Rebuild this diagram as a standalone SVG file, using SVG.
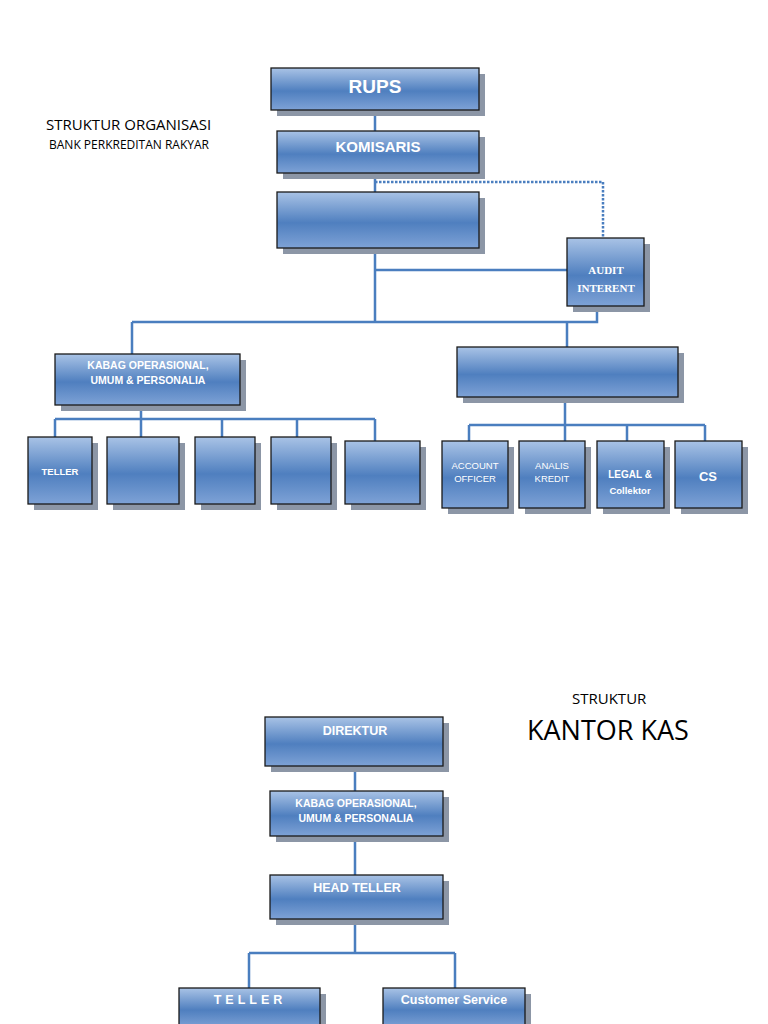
<svg xmlns="http://www.w3.org/2000/svg" width="768" height="1024" viewBox="0 0 768 1024">
<defs>
<linearGradient id="g" x1="0" y1="0" x2="0" y2="1">
<stop offset="0" stop-color="#a9c3e6"/><stop offset="0.55" stop-color="#4f7fbf"/><stop offset="1" stop-color="#7ea2d6"/>
</linearGradient>
<style>
.b{fill:url(#g);stroke:#1a1a1a;stroke-width:1.3}
.s{fill:#8c96a6}
.t{font-family:"Liberation Sans",Arial,sans-serif;font-weight:bold;fill:#fff;text-anchor:middle}
.c{stroke:#4a7ebf;stroke-width:2.5;fill:none}
.d{stroke:#4a7ebf;stroke-width:2.5;fill:none;stroke-dasharray:2.5 1.5}
.l{font-family:"Open Sans","Liberation Sans",sans-serif;fill:#000}
</style>
</defs>
<rect width="768" height="1024" fill="#fff"/>
<g id="labels">
<text class="l" x="46" y="130" font-size="15">STRUKTUR ORGANISASI</text>
<text class="l" x="49" y="149" font-size="12">BANK PERKREDITAN RAKYAR</text>
<text class="l" x="572" y="704" font-size="15">STRUKTUR</text>
<text class="l" x="527" y="740" font-size="27">KANTOR KAS</text>
</g>
<g id="connectors">
<path class="c" d="M375 110V131M375 173V322M375 270H567M132 322H597V306M132 322V354M567 322V347"/>
<path class="d" d="M375 182H603V238"/>
<path class="c" d="M141 405V419M55 419H375M55 419V437M141 419V437M222 419V437M297 419V437M375 419V463"/>
<path class="c" d="M565 397V441M469 425H705M469 425V441M627 425V441M705 425V441"/>
<path class="c" d="M355 766V791M355 836V875M355 919V953M249 953H455M249 953V988M455 953V988"/>
</g>
<g id="rups"><rect class="s" x="277" y="74" width="208" height="42"/><rect class="b" x="271" y="68" width="208" height="42"/><text class="t" x="375" y="93" font-size="19">RUPS</text></g>
<g id="komisaris"><rect class="s" x="283" y="137" width="202" height="42"/><rect class="b" x="277" y="131" width="202" height="42"/><text class="t" x="378" y="152" font-size="15">KOMISARIS</text></g>
<g id="direksi"><rect class="s" x="283" y="198" width="202" height="56"/><rect class="b" x="277" y="192" width="202" height="56"/></g>
<g id="audit"><rect class="s" x="573" y="244" width="77" height="68"/><rect class="b" x="567" y="238" width="77" height="68"/><text class="t" x="606" y="274" font-size="11" font-family="Liberation Serif,serif" style="font-family:'Liberation Serif',serif">AUDIT</text><text class="t" x="606" y="292" font-size="11" style="font-family:'Liberation Serif',serif">INTERENT</text></g>
<g id="kabag"><rect class="s" x="61" y="360" width="185" height="51"/><rect class="b" x="55" y="354" width="185" height="51"/><text class="t" x="148" y="369" font-size="10.5">KABAG OPERASIONAL,</text><text class="t" x="148" y="384" font-size="10.5">UMUM &amp; PERSONALIA</text></g>
<g id="kabag2"><rect class="s" x="463" y="353" width="221" height="50"/><rect class="b" x="457" y="347" width="221" height="50"/></g>
<g id="teller"><rect class="s" x="34" y="443" width="64" height="67"/><rect class="b" x="28" y="437" width="64" height="67"/><text class="t" x="60" y="475" font-size="9.5">TELLER</text></g>
<g id="b2"><rect class="s" x="113" y="443" width="72" height="67"/><rect class="b" x="107" y="437" width="72" height="67"/></g>
<g id="b3"><rect class="s" x="201" y="443" width="60" height="67"/><rect class="b" x="195" y="437" width="60" height="67"/></g>
<g id="b4"><rect class="s" x="277" y="443" width="60" height="67"/><rect class="b" x="271" y="437" width="60" height="67"/></g>
<g id="b5"><rect class="s" x="351" y="447" width="75" height="63"/><rect class="b" x="345" y="441" width="75" height="63"/></g>
<g id="ao"><rect class="s" x="448" y="447" width="66" height="67"/><rect class="b" x="442" y="441" width="66" height="67"/><text class="t" x="475" y="469" font-size="9.5" font-weight="normal" style="font-weight:normal">ACCOUNT</text><text class="t" x="475" y="482" font-size="9.5" style="font-weight:normal">OFFICER</text></g>
<g id="ak"><rect class="s" x="525" y="447" width="66" height="67"/><rect class="b" x="519" y="441" width="66" height="67"/><text class="t" x="552" y="469" font-size="9.5" style="font-weight:normal">ANALIS</text><text class="t" x="552" y="482" font-size="9.5" style="font-weight:normal">KREDIT</text></g>
<g id="legal"><rect class="s" x="603" y="447" width="67" height="67"/><rect class="b" x="597" y="441" width="67" height="67"/><text class="t" x="630" y="478" font-size="10">LEGAL &amp;</text><text class="t" x="630" y="494" font-size="9.5">Collektor</text></g>
<g id="cs"><rect class="s" x="681" y="447" width="67" height="67"/><rect class="b" x="675" y="441" width="67" height="67"/><text class="t" x="708" y="481" font-size="13">CS</text></g>
<g id="direktur"><rect class="s" x="271" y="723" width="178" height="49"/><rect class="b" x="265" y="717" width="178" height="49"/><text class="t" x="355" y="735" font-size="12.5">DIREKTUR</text></g>
<g id="kabag3"><rect class="s" x="276" y="797" width="173" height="45"/><rect class="b" x="270" y="791" width="173" height="45"/><text class="t" x="356" y="807" font-size="10.5">KABAG OPERASIONAL,</text><text class="t" x="356" y="822" font-size="10.5">UMUM &amp; PERSONALIA</text></g>
<g id="headteller"><rect class="s" x="276" y="881" width="173" height="44"/><rect class="b" x="270" y="875" width="173" height="44"/><text class="t" x="357" y="892" font-size="12.5">HEAD TELLER</text></g>
<g id="teller2"><rect class="s" x="185" y="994" width="141" height="40"/><rect class="b" x="179" y="988" width="141" height="40"/><text class="t" x="250" y="1004" font-size="12.5" letter-spacing="4">TELLER</text></g>
<g id="custserv"><rect class="s" x="389" y="994" width="142" height="40"/><rect class="b" x="383" y="988" width="142" height="40"/><text class="t" x="454" y="1004" font-size="12.5">Customer Service</text></g>
</svg>
